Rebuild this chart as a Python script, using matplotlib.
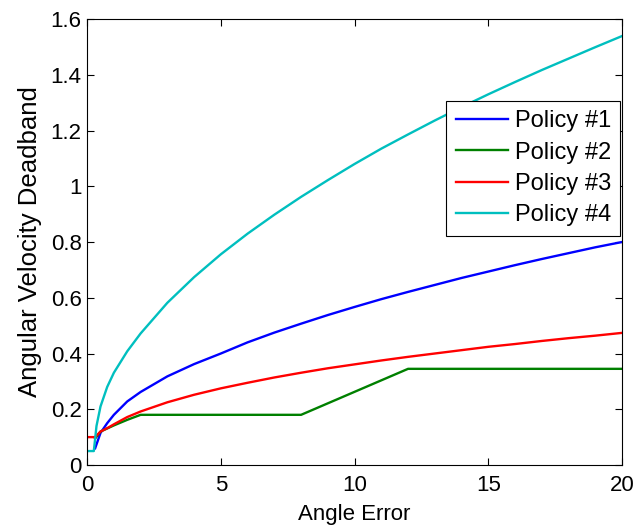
import numpy as np
import matplotlib
matplotlib.use("Agg")
import matplotlib.pyplot as plt

plt.rcParams['font.family'] = ['Liberation Sans', 'DejaVu Sans']

# values (angle error -> deadband)
p1_x = [0.3, 0.5, 0.75, 1, 1.5, 2, 3, 4, 5, 6, 7, 8, 9, 10, 11, 12, 13, 14, 15, 16, 17, 18, 19, 20]
p1_y = [0.06, 0.115, 0.15, 0.18, 0.228, 0.262, 0.318, 0.362, 0.40, 0.44, 0.475, 0.507, 0.538,
        0.567, 0.595, 0.621, 0.646, 0.671, 0.694, 0.717, 0.739, 0.76, 0.781, 0.80]

p2_x = [0.3, 0.5, 1, 1.5, 2, 8, 12, 20]
p2_y = [0.095, 0.12, 0.142, 0.162, 0.18, 0.18, 0.345, 0.345]

p3_x = [0, 0.3, 0.5, 0.75, 1, 1.5, 2, 3, 4, 5, 6, 7, 8, 9, 10, 11, 12, 13, 14, 15, 16, 17,
        18, 19, 20]
p3_y = [0.1, 0.1, 0.12, 0.132, 0.146, 0.172, 0.192, 0.225, 0.252, 0.275, 0.295, 0.314, 0.331,
        0.347, 0.361, 0.375, 0.388, 0.400, 0.412, 0.424, 0.434, 0.445, 0.455, 0.464, 0.474]

p4_x = [0, 0.25, 0.35, 0.5, 0.75, 1, 1.5, 2, 3, 4, 5, 6, 7, 8, 9, 10, 11, 12, 13, 14, 15,
        16, 17, 18, 19, 20]
p4_y = [0.05, 0.05, 0.14, 0.21, 0.28, 0.331, 0.408, 0.472, 0.582, 0.674, 0.756, 0.830, 0.898,
        0.962, 1.022, 1.080, 1.135, 1.186, 1.236, 1.284, 1.330, 1.374, 1.417, 1.458, 1.499, 1.539]

labels = ['Policy #1', 'Policy #2', 'Policy #3', 'Policy #4']
colors = ['#0000ff', '#008000', '#ff0000', '#00bfbf']

x_ticks = [0, 5, 10, 15, 20]
y_ticks = [0, 0.2, 0.4, 0.6, 0.8, 1.0, 1.2, 1.4, 1.6]
y_tick_labels = ['0', '0.2', '0.4', '0.6', '0.8', '1', '1.2', '1.4', '1.6']

fig = plt.figure(figsize=(6.36, 5.29), dpi=100)
ax = fig.add_axes([0.137, 0.121, 0.841, 0.843])

series = [(p1_x, p1_y), (p2_x, p2_y), (p3_x, p3_y), (p4_x, p4_y)]
for (xs, ys), lab, col in zip(series, labels, colors):
    ax.plot(xs, ys, color=col, lw=1.7, label=lab)

ax.set_xlim(0, 20)
ax.set_ylim(0, 1.6)
ax.set_xticks(x_ticks)
ax.set_yticks(y_ticks)
ax.set_yticklabels(y_tick_labels)
ax.tick_params(direction='in', top=True, right=True, labelsize=16, length=5)
ax.tick_params(axis='x', pad=7)
ax.tick_params(axis='y', pad=4)
for s in ax.spines.values():
    s.set_linewidth(0.8)

ax.set_xlabel('Angle Error', fontsize=16, labelpad=6)
ax.set_ylabel('Angular Velocity Deadband', fontsize=18.5, labelpad=6)

leg = ax.legend(loc='upper right', bbox_to_anchor=(0.997, 0.817), borderaxespad=0,
                fontsize=17, fancybox=False, framealpha=1, edgecolor='black',
                handlelength=2.2, handletextpad=0.3, labelspacing=0.4, borderpad=0.4)
leg.get_frame().set_linewidth(0.8)

fig.savefig('out.png', dpi=100)
